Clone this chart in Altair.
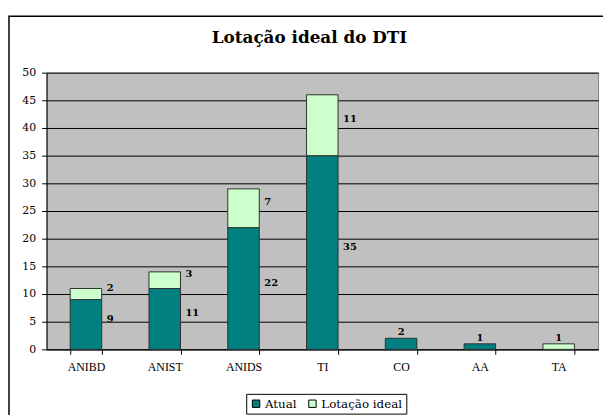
import altair as alt
import pandas as pd

categories = ["ANIBD", "ANIST", "ANIDS", "TI", "CO", "AA", "TA"]
atual = [9, 11, 22, 35, 2, 1, 0]
ideal = [2, 3, 7, 11, 0, 0, 1]
series = ["Atual", "Lotação ideal"]
colors = ["#008080", "#CCFFCC"]
y_ticks = list(range(0, 51, 5))

rows = []
for c, a, i in zip(categories, atual, ideal):
    rows.append(dict(cat=c, serie=series[0], valor=a, y0=0, y1=a, total=a + i))
    rows.append(dict(cat=c, serie=series[1], valor=i, y0=a, y1=a + i, total=a + i))
df = pd.DataFrame(rows)
df = df[df.valor > 0].copy()
df["mid"] = (df.y0 + df.y1) / 2
df["lado"] = ["topo" if t <= 2 else "direita" for t in df.total]

SERIF = "DejaVu Serif"
XFONT = "Liberation Serif"

x_scale = alt.Scale(paddingInner=0.6, paddingOuter=0.3)
x_axis = alt.Axis(title=None, labelAngle=0, tickBand="extent", ticks=True,
                  tickSize=5, tickColor="black", domainColor="black",
                  labelColor="black", labelFont=XFONT, labelFontSize=12,
                  labelPadding=7, grid=False)
y_scale = alt.Scale(domain=[0, 50], nice=False)
y_axis = alt.Axis(title=None, values=y_ticks, grid=True, gridColor="black",
                  gridWidth=1, domainColor="black", tickColor="black", tickSize=5,
                  labelFont=SERIF, labelFontSize=11, labelPadding=6,
                  labelColor="black", labelOverlap=False)


def X():
    return alt.X("cat:N", sort=categories, scale=x_scale, axis=x_axis)


def Y(field):
    return alt.Y(field, scale=y_scale, axis=y_axis)


base = alt.Chart(df)

bars = base.mark_bar(stroke="#303030", strokeWidth=1).encode(
    x=X(),
    y=Y("y0:Q"),
    y2="y1:Q",
    color=alt.Color("serie:N", scale=alt.Scale(domain=series, range=colors),
                    legend=alt.Legend(title=None, orient="none", legendX=202,
                                      legendY=325, direction="horizontal",
                                      symbolType="square", symbolSize=56,
                                      symbolStrokeColor="black",
                                      symbolStrokeWidth=1, labelFont=SERIF,
                                      labelFontSize=12, labelColor="black",
                                      labelOffset=3, columnPadding=10,
                                      padding=4, strokeColor="black",
                                      fillColor="white")),
)

lab_right = base.transform_filter(alt.datum.lado == "direita").mark_text(
    align="left", baseline="middle", dx=21, dy=-6, font=SERIF,
    fontSize=10, fontWeight="bold", color="black"
).encode(x=X(), y=Y("mid:Q"), text="valor:Q")

lab_top = base.transform_filter(alt.datum.lado == "topo").mark_text(
    align="center", baseline="bottom", dy=-1, font=SERIF,
    fontSize=10, fontWeight="bold", color="black"
).encode(x=X(), y=Y("y1:Q"), text="valor:Q")

frame = alt.Chart(pd.DataFrame({"k": [0]})).mark_rect(
    fill=None, stroke="black", strokeWidth=1.5
).encode(x=alt.value(-38), x2=alt.value(600), y=alt.value(-57), y2=alt.value(400))

chart = alt.layer(bars, lab_right, lab_top, frame).properties(
    width=558, height=280,
    background="white",
    padding={"left": 39, "top": 63, "right": 5, "bottom": 64},
    autosize=alt.AutoSizeParams(type="none"),
    title=alt.TitleParams("Lotação ideal do DTI", font=SERIF, fontSize=17,
                          fontWeight="bold", color="black", anchor="middle",
                          baseline="alphabetic", offset=-45, dx=-13),
).configure_view(fill="#C0C0C0", stroke="#808080")

chart.save("out.html", embed_options={"renderer": "svg", "actions": False})
